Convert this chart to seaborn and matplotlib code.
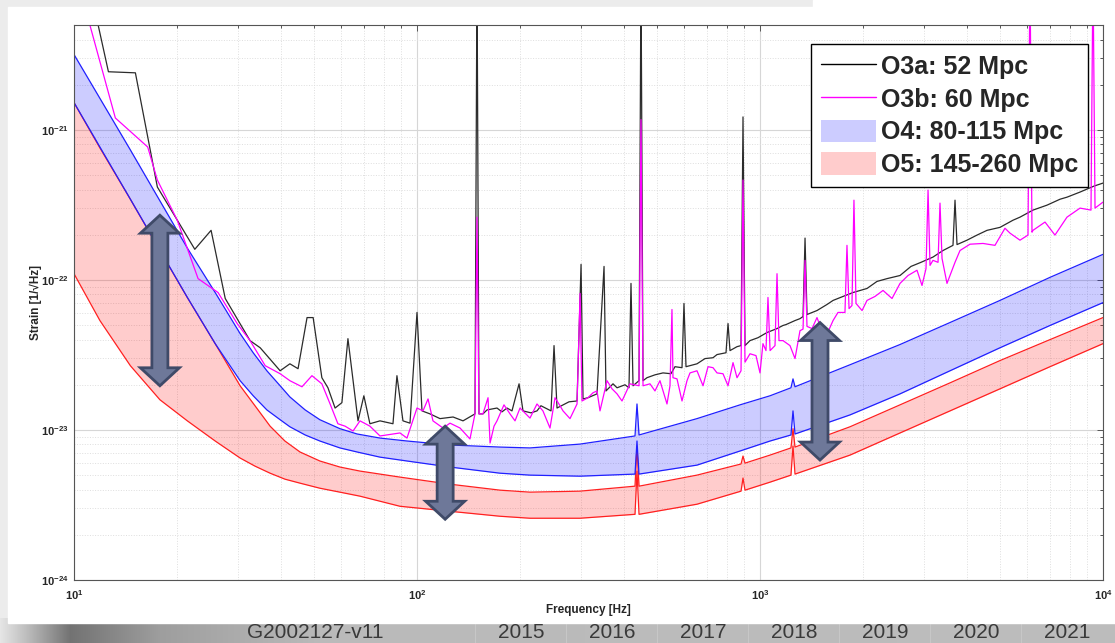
import numpy as np
import matplotlib
matplotlib.use("Agg")
import matplotlib.pyplot as plt
import matplotlib.ticker as mticker
import matplotlib.transforms as mtransforms
from matplotlib.patches import Polygon, Rectangle, Patch
from matplotlib.lines import Line2D
import seaborn as sns

# ---- data (frequency in Hz, strain in 1/sqrt(Hz)) ----
o3a_freq = [11.1, 12.6, 15.1, 17.5, 22.5, 25.1, 27.6, 32.6, 34.9, 39.9, 42.6, 45.0,
            47.8, 49.8, 52.8, 55.0, 57.7, 60.4, 62.9, 67.3, 70.0, 72.9, 78.0, 85.1,
            87.4, 91.0, 95.4, 100, 103.4, 109.1, 116.7, 127.4, 136.2, 147.6, 149.6,
            151.6, 155.7, 171.1, 183.0, 198.4, 203.7, 223.8, 245.9, 250.9, 256.0,
            292.8, 300.8, 304.8, 334.8, 351.0, 355.6, 372.8, 415.0, 420.6, 426.4,
            443.9, 449.8, 456.0, 468.3, 521.4, 592.4, 600.3, 608.5, 655.1, 729.5,
            796, 806.8, 817.6, 880.4, 892.2, 904.2, 935.1, 1048, 1167, 1308, 1335,
            1353, 1371, 1633, 2051, 2560, 3194, 3653, 3703, 3753, 4013, 5008, 5465,
            5728, 6250, 7852, 10000]
o3a_strain = [9.1e-21, 2.44e-21, 2.40e-21, 4.16e-22, 1.60e-22, 2.14e-22, 7.52e-23,
              3.94e-23, 3.53e-23, 2.48e-23, 2.76e-23, 2.56e-23, 5.61e-23, 5.61e-23,
              2.23e-23, 1.91e-23, 1.40e-23, 1.52e-23, 4.06e-23, 1.15e-23, 1.69e-23,
              1.10e-23, 1.15e-23, 1.10e-23, 2.30e-23, 1.15e-23, 1.11e-23, 6.07e-23,
              1.34e-23, 1.28e-23, 1.19e-23, 1.22e-23, 1.15e-23, 1.28e-23, 1.2e-20,
              1.28e-23, 1.28e-23, 1.40e-23, 1.40e-23, 2.03e-23, 1.34e-23, 1.34e-23,
              1.34e-23, 3.65e-23, 1.40e-23, 1.56e-23, 1.27e-22, 1.61e-23, 1.74e-23,
              1.23e-22, 1.82e-23, 2.03e-23, 1.91e-23, 9.48e-23, 1.97e-23, 2.13e-23,
              1.2e-20, 2.13e-23, 2.23e-23, 2.40e-23, 2.60e-23, 6.97e-23, 2.64e-23,
              2.76e-23, 3.03e-23, 3.27e-23, 5.12e-23, 3.38e-23, 3.65e-23, 1.22e-21,
              3.65e-23, 3.94e-23, 4.46e-23, 4.97e-23, 5.52e-23, 5.70e-23, 1.90e-22,
              5.88e-23, 7.30e-23, 8.77e-23, 1.07e-22, 1.42e-22, 1.70e-22, 3.40e-22,
              1.72e-22, 1.84e-22, 2.24e-22, 2.50e-22, 2.62e-22, 2.92e-22, 3.56e-22,
              4.42e-22]
# extra samples of the noisy floor above 150 Hz
o3a_floor_freq = [160.0, 176.9, 189.2, 215.0, 229.8, 277.4, 315.1, 383.0, 404.1, 494.1,
                  550.1, 565.1, 691.3, 749.3, 857.0, 986.8, 1121, 1191, 1265, 1466,
                  1568, 1746, 1867, 2193, 2346, 2755, 2947, 3416, 4293, 4590, 6867,
                  7494, 8570, 9415]
o3a_floor_strain = [1.36e-23, 1.32e-23, 1.34e-23, 1.30e-23, 1.45e-23, 1.54e-23, 1.64e-23,
                    1.91e-23, 2.00e-23, 2.33e-23, 2.37e-23, 2.64e-23, 2.99e-23, 3.18e-23,
                    3.59e-23, 4.12e-23, 4.74e-23, 5.04e-23, 5.36e-23, 6.25e-23, 6.86e-23,
                    7.76e-23, 8.24e-23, 9.77e-23, 1.02e-22, 1.23e-22, 1.31e-22, 1.57e-22,
                    1.99e-22, 2.14e-22, 3.15e-22, 3.45e-22, 3.85e-22, 4.22e-22]

o3b_freq = [10.4, 13.2, 16.4, 17.5, 20.0, 23.0, 26.3, 29.9, 32.6, 36.1, 39.9, 42.6,
            46.2, 49.4, 52.8, 55.8, 58.8, 61.7, 65.1, 68.2, 72.9, 78.0, 89.2, 93.5,
            100, 104.1, 107.7, 111.3, 119.1, 124.8, 133.5, 142.7, 147.6, 149.6, 151.6,
            155.7, 161.1, 163.3, 171.1, 186.7, 199.7, 213.5, 232.9, 244.2, 252.6,
            266.5, 292.8, 298.8, 302.7, 315.1, 334.8, 358.1, 383.0, 417.8, 443.9,
            449.8, 456.0, 477.8, 510.9, 535.6, 546.5, 553.8, 557.6, 612.6, 655.1,
            729.5, 780.1, 857.0, 880.4, 892.2, 904.2, 935.1, 1020, 1041, 1055, 1070,
            1106, 1121, 1136, 1167, 1308, 1335, 1353, 1371, 1466, 1633, 1769, 1793,
            1818, 1854, 1879, 1905, 2051, 2284, 2560, 2869, 3048, 3090, 3131, 3194,
            3304, 3348, 3394, 3509, 3829, 4468, 5356, 5728, 6044, 6125, 6208, 6250,
            7852, 9226, 9350, 9478, 10000]
o3b_strain = [8.77e-21, 1.20e-21, 7.69e-22, 4.63e-22, 2.50e-22, 1.02e-22, 8.24e-23,
              5.12e-23, 3.94e-23, 2.68e-23, 2.37e-23, 2.13e-23, 1.94e-23, 2.30e-23,
              2.03e-23, 1.49e-23, 1.10e-23, 1.06e-23, 9.84e-24, 1.15e-23, 1.06e-23,
              9.12e-24, 9.55e-24, 8.83e-24, 1.40e-23, 1.34e-23, 1.61e-23, 1.15e-23,
              1.03e-23, 1.11e-23, 1.03e-23, 8.71e-24, 1.28e-23, 2.62e-22, 1.28e-23,
              1.28e-23, 1.64e-23, 8.18e-24, 1.15e-23, 1.28e-23, 1.40e-23, 1.20e-23,
              1.34e-23, 1.03e-23, 1.64e-23, 1.34e-23, 1.49e-23, 8.13e-23, 1.56e-23,
              1.64e-23, 1.82e-23, 2.13e-23, 1.74e-23, 2.03e-23, 1.97e-23, 1.17e-21,
              1.97e-23, 2.03e-23, 2.13e-23, 1.49e-23, 1.97e-23, 6.35e-23, 2.23e-23,
              2.13e-23, 2.48e-23, 2.60e-23, 2.37e-23, 2.23e-23, 2.48e-23, 4.63e-22,
              2.83e-23, 3.22e-23, 3.76e-23, 3.38e-23, 7.64e-23, 3.38e-23, 3.65e-23,
              1.10e-22, 3.94e-23, 3.94e-23, 4.59e-23, 4.70e-23, 1.35e-22, 4.90e-23,
              5.61e-23, 5.36e-23, 6.07e-23, 1.70e-22, 6.44e-23, 6.75e-23, 3.40e-22,
              6.97e-23, 7.30e-23, 8.51e-23, 9.48e-23, 1.16e-22, 1.19e-22, 3.97e-22,
              1.25e-22, 1.35e-22, 1.31e-22, 3.25e-22, 1.39e-22, 9.48e-23, 1.57e-22,
              1.75e-22, 2.05e-22, 1.84e-22, 1.99e-22, 1.2e-20, 2.08e-22, 2.14e-22,
              2.62e-22, 2.92e-22, 1.2e-20, 3.01e-22, 3.30e-22]
o3b_floor_freq = [167.7, 179.3, 193.1, 223.8, 239.3, 261.2, 279.3, 326.0, 341.6, 370.3,
                  396.0, 494.1, 572.8, 592.4, 625.1, 682.1, 705.4, 749.3, 806.8, 834.3,
                  973.4, 1000, 1223, 1265, 1418, 1547, 1688, 1984, 2164, 2426, 2701,
                  2967, 3703, 4095, 4842, 5179, 6776, 7244, 8570]
o3b_floor_strain = [1.06e-23, 1.47e-23, 1.15e-23, 1.49e-23, 1.15e-23, 1.45e-23, 1.19e-23,
                    1.77e-23, 1.34e-23, 1.88e-23, 1.56e-23, 1.82e-23, 2.19e-23, 1.56e-23,
                    2.40e-23, 1.97e-23, 2.64e-23, 2.40e-23, 1.97e-23, 2.81e-23, 3.13e-23,
                    2.40e-23, 3.65e-23, 2.99e-23, 4.74e-23, 4.06e-23, 6.07e-23, 6.25e-23,
                    7.76e-23, 7.52e-23, 1.07e-22, 9.18e-23, 1.31e-22, 1.73e-22, 1.70e-22,
                    2.21e-22, 2.43e-22, 1.99e-22, 3.01e-22]

o4_freq = [10, 14.6, 21.4, 25.8, 30.5, 33.3, 36.5, 39.9, 42.6, 47.2, 52.1, 59.6, 66.9,
           78.0, 93.5, 124.8, 174.6, 213.5, 298.8, 432.1, 437.9, 443.9, 655.1, 874.5,
           1070, 1231, 1248, 1265, 1830, 2560, 3581, 5008, 7006, 10000]
o4_high = [3.18e-21, 7.35e-22, 1.63e-22, 8.24e-23, 4.39e-23, 3.27e-23, 2.48e-23,
           1.97e-23, 1.66e-23, 1.36e-23, 1.17e-23, 1.02e-23, 9.40e-24, 8.83e-24,
           8.44e-24, 7.94e-24, 7.69e-24, 7.59e-24, 8.05e-24, 9.12e-24, 1.49e-23,
           9.26e-24, 1.19e-23, 1.47e-23, 1.69e-23, 1.91e-23, 2.19e-23, 1.94e-23,
           2.72e-23, 3.71e-23, 5.20e-23, 7.30e-23, 1.04e-22, 1.48e-22]
o4_low = [1.52e-21, 3.45e-22, 7.64e-23, 3.76e-23, 2.13e-23, 1.69e-23, 1.36e-23,
          1.17e-23, 1.05e-23, 9.26e-24, 8.44e-24, 7.59e-24, 7.13e-24, 6.59e-24,
          6.21e-24, 5.66e-24, 5.15e-24, 5.00e-24, 4.92e-24, 5.08e-24, 8.44e-24,
          5.08e-24, 5.83e-24, 7.24e-24, 8.44e-24, 9.26e-24, 1.34e-23, 9.40e-24,
          1.26e-23, 1.74e-23, 2.48e-23, 3.53e-23, 4.97e-23, 7.06e-23]

o5_freq = [10, 11.9, 14.6, 17.8, 21.4, 25.8, 30.5, 33.7, 37.3, 41.2, 45.6, 52.1, 59.6,
           68.2, 89.2, 124.8, 174.6, 213.5, 298.8, 432.1, 437.9, 443.9, 655.1, 880.4,
           892.2, 904.2, 1070, 1231, 1248, 1265, 1830, 2560, 3581, 5008, 7006, 10000]
o5_high = [1.52e-21, 7.58e-22, 3.45e-22, 1.57e-22, 7.64e-23, 3.76e-23, 1.97e-23,
           1.45e-23, 1.06e-23, 8.44e-24, 7.13e-24, 6.21e-24, 5.66e-24, 5.32e-24,
           4.85e-24, 4.35e-24, 3.97e-24, 3.85e-24, 3.91e-24, 4.22e-24, 7.81e-24,
           4.22e-24, 5.00e-24, 5.93e-24, 6.70e-24, 6.01e-24, 6.80e-24, 7.59e-24,
           1.02e-23, 7.69e-24, 1.05e-23, 1.47e-23, 2.06e-23, 2.90e-23, 4.00e-23,
           5.61e-23]
o5_low = [1.10e-22, 5.36e-23, 2.68e-23, 1.59e-23, 1.15e-23, 8.44e-24, 6.50e-24,
          5.74e-24, 5.15e-24, 4.70e-24, 4.42e-24, 4.09e-24, 3.85e-24, 3.62e-24,
          3.10e-24, 2.87e-24, 2.66e-24, 2.58e-24, 2.58e-24, 2.74e-24, 5.32e-24,
          2.74e-24, 3.20e-24, 3.91e-24, 4.78e-24, 3.97e-24, 4.49e-24, 5.00e-24,
          7.81e-24, 5.08e-24, 6.80e-24, 9.55e-24, 1.34e-23, 1.88e-23, 2.64e-23,
          3.76e-23]

legend_labels = ["O3a: 52 Mpc", "O3b: 60 Mpc", "O4: 80-115 Mpc", "O5: 145-260 Mpc"]
x_decades = [10, 100, 1000, 10000]
y_decades = [1e-24, 1e-23, 1e-22, 1e-21]

# double arrows: (frequency, top strain, bottom strain)
arrow_freq = [17.8, 120.8, 1496]
arrow_top = [2.70e-22, 1.06e-23, 5.2e-23]
arrow_bottom = [1.97e-23, 2.54e-24, 6.3e-24]

slide_tag = "G2002127-v11"
timeline_years = ["2015", "2016", "2017", "2018", "2019", "2020", "2021"]


def merged(freq, strain, extra_f, extra_s):
    f = np.array(freq + extra_f, dtype=float)
    s = np.array(strain + extra_s, dtype=float)
    order = np.argsort(f, kind="stable")
    return f[order], s[order]


def minor_ticks(decades, top):
    vals = [d * k for d in decades for k in range(2, 10)]
    return [v for v in vals if v < top]


# ---- style ----
sns.set_theme(style="white")
plt.rcParams["font.family"] = ["Liberation Sans", "DejaVu Sans"]
plt.rcParams["mathtext.fontset"] = "custom"
plt.rcParams["mathtext.rm"] = "Liberation Sans"
plt.rcParams["mathtext.bf"] = "Liberation Sans:bold"

W, H = 1115, 643
fig = plt.figure(figsize=(W / 100, H / 100), dpi=100)
fig.patch.set_facecolor("#ececec")
px = mtransforms.IdentityTransform()

# slide background: shadowed strip at the bottom, white panel on top of it
strip_h = 25
shade = np.interp(np.arange(W), [0, 25, 70, 160, 320, W], [0.9, 0.75, 0.45, 0.62, 0.73, 0.74])
strip = np.repeat(np.repeat(shade[None, :, None], strip_h, axis=0), 3, axis=2)
fig.figimage(strip, xo=0, yo=0, zorder=-5)
for i in range(len(timeline_years)):
    cx = 521 + i * 91 - 46
    fig.add_artist(Line2D([cx, cx], [0, H - 624], color="#d0d0d0", lw=0.8, alpha=0.6,
                          transform=px, zorder=-4))
fig.add_artist(Rectangle((8, H - 623), W - 8, 616, color="white", transform=px, zorder=-3))
fig.add_artist(Rectangle((813, H - 8), W - 813, 8, color="white", transform=px, zorder=-3))
fig.text(315 / W, 1 - 638 / H, slide_tag, fontsize=15, color="#3a3a3a", ha="center",
         va="baseline")
for i, yr in enumerate(timeline_years):
    fig.text((521 + i * 91) / W, 1 - 638 / H, yr, fontsize=15, color="#3a3a3a",
             ha="center", va="baseline")

# ---- main axes ----
ax = fig.add_axes([74 / W, 1 - 580 / H, 1029 / W, 555 / H])
ax.set_xscale("log")
ax.set_yscale("log")
ax.set_xlim(10, 1e4)
ax.set_ylim(1e-24, 5e-21)
ax.set_facecolor("white")

ax.fill_between(o5_freq, o5_low, o5_high, color="red", alpha=0.2, lw=0)
ax.fill_between(o4_freq, o4_low, o4_high, color="blue", alpha=0.2, lw=0)
for yv in (o5_high, o5_low):
    sns.lineplot(x=o5_freq, y=yv, color="#ff2020", lw=0.9, ax=ax, estimator=None, sort=False)
for yv in (o4_high, o4_low):
    sns.lineplot(x=o4_freq, y=yv, color="#2020ff", lw=0.9, ax=ax, estimator=None, sort=False)

fa, sa = merged(o3a_freq, o3a_strain, o3a_floor_freq, o3a_floor_strain)
fb, sb = merged(o3b_freq, o3b_strain, o3b_floor_freq, o3b_floor_strain)
sns.lineplot(x=fa, y=sa, color="#2b2b2b", lw=0.9, ax=ax, estimator=None, sort=False)
sns.lineplot(x=fb, y=sb, color="#ff00ff", lw=0.9, ax=ax, estimator=None, sort=False)

ax.set_xlim(10, 1e4)
ax.set_ylim(1e-24, 5e-21)

# MATLAB-like grid and ticks (only ticks inside the view)
ax.set_axisbelow(True)
ax.grid(True, which="major", color="#d6d6d6", lw=0.8, ls="-")
ax.grid(True, which="minor", color="#dedede", lw=0.7, ls=":")
ax.xaxis.set_major_locator(mticker.FixedLocator(x_decades))
ax.xaxis.set_minor_locator(mticker.FixedLocator(minor_ticks(x_decades[:-1], 1e4)))
ax.yaxis.set_major_locator(mticker.FixedLocator(y_decades))
ax.yaxis.set_minor_locator(mticker.FixedLocator(minor_ticks(y_decades, 5.01e-21)))
fmt = mticker.FuncFormatter(lambda v, p: r"$\mathbf{10^{%d}}$" % round(np.log10(v)))
ax.xaxis.set_major_formatter(fmt)
ax.yaxis.set_major_formatter(fmt)
ax.xaxis.set_minor_formatter(mticker.NullFormatter())
ax.yaxis.set_minor_formatter(mticker.NullFormatter())
ax.tick_params(which="both", direction="in", top=True, right=True, color="#555555",
               labelcolor="#262626", labelsize=8, width=0.7)
ax.tick_params(which="major", length=4.5)
ax.tick_params(which="minor", length=2.5)
ax.tick_params(axis="x", pad=6)
ax.tick_params(axis="y", pad=4)
for sp in ax.spines.values():
    sp.set_color("#555555")
    sp.set_linewidth(0.8)

ax.set_xlabel("Frequency [Hz]", fontsize=8.5, fontweight="bold", color="#262626")
ax.set_ylabel("Strain [1/\u221aHz]", fontsize=8.5, fontweight="bold", color="#262626")
ax.xaxis.set_label_coords(0.5, -(604 - 580) / 555)
ax.yaxis.set_label_coords(-(74 - 42) / 1029, 0.5)

handles = [Line2D([], [], color="black", lw=1),
           Line2D([], [], color="#ff00ff", lw=1),
           Patch(facecolor=(0, 0, 1, 0.2), edgecolor="none"),
           Patch(facecolor=(1, 0, 0, 0.2), edgecolor="none")]
leg = ax.legend(handles, legend_labels, loc="upper right",
                bbox_to_anchor=(1088 / W, 1 - 44 / H), bbox_transform=fig.transFigure,
                prop={"weight": "bold", "size": 18}, frameon=True, fancybox=False,
                edgecolor="black", framealpha=1, borderaxespad=0, handlelength=2.2,
                handleheight=1.0, handletextpad=0.2, borderpad=0.4, labelspacing=0.32)
leg.get_frame().set_linewidth(1.0)

# thick double-headed arrows drawn in pixel space
for f, top, bot in zip(arrow_freq, arrow_top, arrow_bottom):
    x, y1 = ax.transData.transform((f, top))
    _, y0 = ax.transData.transform((f, bot))
    hl, hw, sw = 18, 19.5, 8
    verts = [(x, y1), (x + hw, y1 - hl), (x + sw, y1 - hl), (x + sw, y0 + hl),
             (x + hw, y0 + hl), (x, y0), (x - hw, y0 + hl), (x - sw, y0 + hl),
             (x - sw, y1 - hl), (x - hw, y1 - hl)]
    ax.add_patch(Polygon(verts, closed=True, transform=px, facecolor="#6e7899",
                         edgecolor="#3f4a68", lw=2.0, zorder=6, clip_on=False))

fig.savefig("out.png", dpi=100, facecolor=fig.get_facecolor())
